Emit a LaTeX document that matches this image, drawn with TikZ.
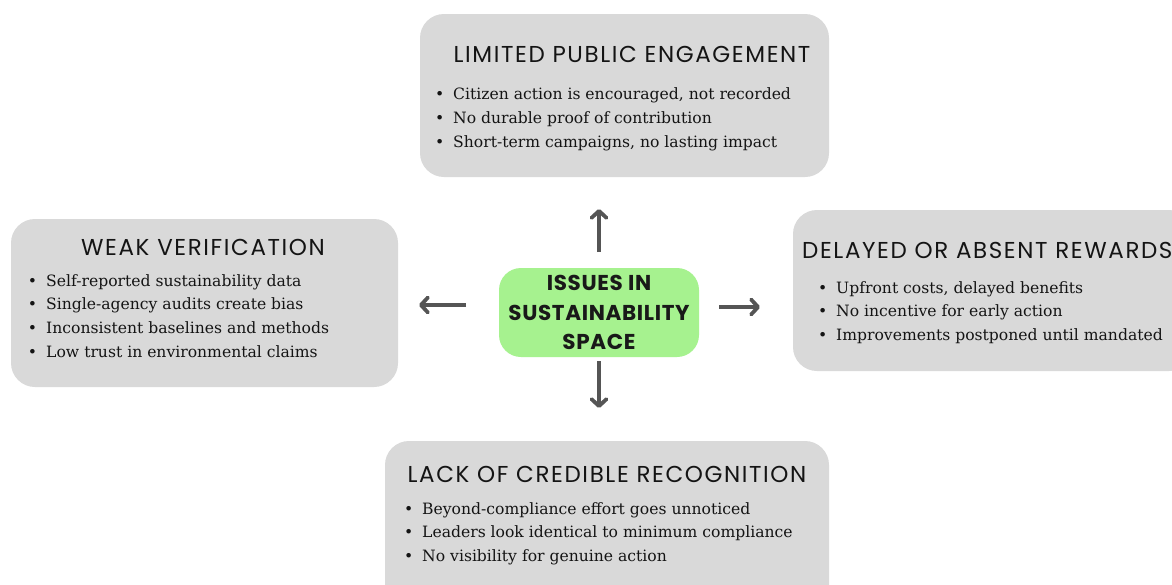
\documentclass[tikz,border=0pt]{standalone}
\usepackage{fontspec}
\setmainfont{DejaVu Serif}
\newfontfamily\headfont{Poppins}[LetterSpace=7]
\newfontfamily\hubfont{Poppins}[LetterSpace=3]
\usetikzlibrary{arrows.meta}
\definecolor{boxgray}{HTML}{D9D9D9}
\definecolor{boxgreen}{HTML}{A6F28F}
\definecolor{arrgray}{HTML}{555555}
\newcommand\itm[1]{\llap{\textbullet\hspace{9pt}}#1}
\begin{document}
\begin{tikzpicture}[x=1pt,y=-1pt,
  panel/.style={fill=boxgray, rounded corners=24pt, draw=none, inner sep=0pt},
  hub/.style={fill=boxgreen, rounded corners=22pt, inner sep=0pt, minimum width=200pt, minimum height=89pt, align=center, font=\hubfont\bfseries\fontsize{21.5}{29.5}\selectfont, text=black!90},
  head/.style={font=\headfont\fontsize{23}{23}\selectfont, inner sep=0pt, anchor=base, text=black!92},
  item/.style={font=\fontsize{15.6}{17}\selectfont, inner sep=0pt, anchor=base west, text=black!92},
  arr/.style={draw=arrgray, line width=3.8pt, -{Straight Barb[length=7pt,width=15pt,line cap=round,line join=round]}}
]
\clip (0,0) rectangle (1172,584);
\fill[white] (0,0) rectangle (1172,584);
% panels
\node[panel, minimum width=409pt, minimum height=163pt] (ptop) at (624.5,95.5) {};
\node[panel, minimum width=387pt, minimum height=168pt] (pleft) at (204.5,303) {};
\node[panel, minimum width=400pt, minimum height=161pt] (pright) at (993,290.5) {};
\node[panel, minimum width=444pt, minimum height=170pt] (pbot) at (607,526) {};
\node[hub] (hub) at (599,312.5) {ISSUES IN\\SUSTAINABILITY\\SPACE};
% headings
\node[head] (htop) at (632,62) {LIMITED PUBLIC ENGAGEMENT};
\node[head] (hleft) at (203,255) {WEAK VERIFICATION};
\node[head, anchor=base west] (hright) at (802,258) {DELAYED OR ABSENT REWARDS};
\node[head] (hbot) at (607,482) {LACK OF CREDIBLE RECOGNITION};
% items
\foreach \t [count=\i] in {{Citizen action is encouraged, not recorded},{No durable proof of contribution},{Short-term campaigns, no lasting impact}}
  \node[item] (ttop\i) at (453,{99+24*(\i-1)}) {\itm{\t}};
\foreach \t [count=\i] in {{Self-reported sustainability data},{Single-agency audits create bias},{Inconsistent baselines and methods},{Low trust in environmental claims}}
  \node[item] (tleft\i) at (46,{286+23.7*(\i-1)}) {\itm{\t}};
\foreach \t [count=\i] in {{Upfront costs, delayed benefits},{No incentive for early action},{Improvements postponed until mandated}}
  \node[item] (tright\i) at (836,{293+23.7*(\i-1)}) {\itm{\t}};
\foreach \t [count=\i] in {{Beyond-compliance effort goes unnoticed},{Leaders look identical to minimum compliance},{No visibility for genuine action}}
  \node[item] (tbot\i) at (422,{514+23.7*(\i-1)}) {\itm{\t}};
% arrows
\coordinate (aus) at (599,252); \coordinate (aue) at (599,209);
\coordinate (ads) at (599,361); \coordinate (ade) at (599,408);
\coordinate (ars) at (719,307); \coordinate (are) at (760,307);
\coordinate (als) at (466,305); \coordinate (ale) at (419,305);
\draw[arr] (aus) -- (aue);
\draw[arr] (ads) -- (ade);
\draw[arr] (ars) -- (are);
\draw[arr] (als) -- (ale);
\end{tikzpicture}
\end{document}
